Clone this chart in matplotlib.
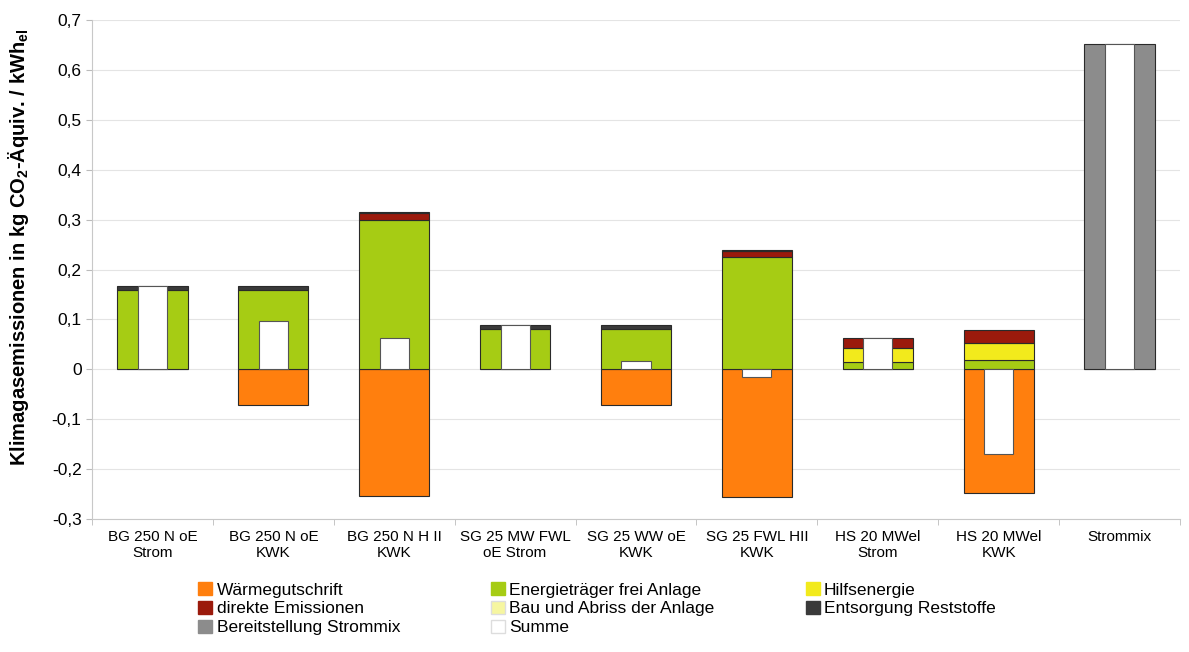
import numpy as np
import matplotlib
matplotlib.use("Agg")
import matplotlib.pyplot as plt
from matplotlib.patches import Patch

plt.rcParams["font.family"] = ["Liberation Sans", "DejaVu Sans"]
plt.rcParams["mathtext.fontset"] = "custom"
plt.rcParams["mathtext.rm"] = "Liberation Sans"
plt.rcParams["mathtext.bf"] = "Liberation Sans:bold"

# Kategorien
kategorien = ["BG 250 N oE\nStrom", "BG 250 N oE\nKWK", "BG 250 N H II\nKWK",
              "SG 25 MW FWL\noE Strom", "SG 25 WW oE\nKWK", "SG 25 FWL HII\nKWK",
              "HS 20 MWel\nStrom", "HS 20 MWel\nKWK", "Strommix"]

# Beiträge je Kategorie (kg CO2-Äquiv. / kWh_el)
waermegutschrift = [0.0, -0.072, -0.253, 0.0, -0.072, -0.255, 0.0, -0.247, 0.0]
energietraeger = [0.160, 0.160, 0.300, 0.080, 0.080, 0.225, 0.015, 0.018, 0.0]
hilfsenergie = [0.0, 0.0, 0.0, 0.0, 0.0, 0.0, 0.027, 0.034, 0.0]
direkte = [0.0, 0.0, 0.013, 0.0, 0.0, 0.012, 0.020, 0.026, 0.0]
bau_abriss = [0.0, 0.0, 0.002, 0.0, 0.0, 0.002, 0.0, 0.0, 0.0]
entsorgung = [0.008, 0.008, 0.0, 0.008, 0.008, 0.0, 0.0, 0.0, 0.0]
strommix = [0.0, 0.0, 0.0, 0.0, 0.0, 0.0, 0.0, 0.0, 0.652]
summe = [0.168, 0.096, 0.062, 0.088, 0.016, -0.016, 0.062, -0.169, 0.652]

farben = {
    "Wärmegutschrift": "#ff7f0e",
    "Energieträger frei Anlage": "#a6cc14",
    "Hilfsenergie": "#f2ea1c",
    "direkte Emissionen": "#9b1a0c",
    "Bau und Abriss der Anlage": "#f6f6a0",
    "Entsorgung Reststoffe": "#3a3a3a",
    "Bereitstellung Strommix": "#8c8c8c",
    "Summe": "#ffffff",
}

fig = plt.figure(figsize=(11.89, 6.52), dpi=100)
ax = fig.add_axes([0.0774, 0.204, 0.915, 0.765])

x = np.arange(len(kategorien))
breite = 0.58
kante = dict(edgecolor="#2a2a2a", linewidth=0.8)

# negativer Teil
ax.bar(x, waermegutschrift, breite, color=farben["Wärmegutschrift"], zorder=2, **kante)

# positive Teile gestapelt
unten = np.zeros(len(x))
for name, werte in [("Energieträger frei Anlage", energietraeger),
                    ("Hilfsenergie", hilfsenergie),
                    ("direkte Emissionen", direkte),
                    ("Bau und Abriss der Anlage", bau_abriss),
                    ("Entsorgung Reststoffe", entsorgung),
                    ("Bereitstellung Strommix", strommix)]:
    werte = np.array(werte)
    maske = werte > 0
    ax.bar(x[maske], werte[maske], breite, bottom=unten[maske],
           color=farben[name], zorder=2, **kante)
    unten += werte

# Summe als schmaler Balken davor
ax.bar(x, summe, 0.24, color="white", edgecolor="#555555", linewidth=0.8, zorder=3)

ax.set_xlim(-0.5, len(x) - 0.5)
ax.set_ylim(-0.3, 0.7)
ax.set_yticks(np.arange(-0.3, 0.71, 0.1))
ax.set_yticklabels([("%.1f" % v).replace(".", ",") if abs(v) > 1e-9 else "0"
                    for v in np.arange(-0.3, 0.71, 0.1)], fontsize=12.5)
ax.set_xticks(x)
ax.set_xticklabels(kategorien, fontsize=11)
ax.set_xticks(np.arange(-0.5, len(x), 1), minor=True)
ax.tick_params(axis="x", which="major", length=0, pad=8)
ax.tick_params(axis="x", which="minor", length=4, color="#bbbbbb")
ax.tick_params(axis="y", length=4, color="#bbbbbb")
ax.yaxis.grid(True, color="#e4e4e4", linewidth=0.8, zorder=0)
ax.set_axisbelow(True)
for s in ["top", "right"]:
    ax.spines[s].set_visible(False)
for s in ["left", "bottom"]:
    ax.spines[s].set_color("#c8c8c8")

ax.set_ylabel(r"Klimagasemissionen in kg CO$_\mathbf{2}$-Äquiv. / kWh$_\mathbf{el}$",
              fontsize=14.5, fontweight="bold")
ax.yaxis.set_label_coords(-0.056, 0.545)

# Legende (zeilenweise wie im Original)
reihenfolge = ["Wärmegutschrift", "direkte Emissionen", "Bereitstellung Strommix",
               "Energieträger frei Anlage", "Bau und Abriss der Anlage", "Summe",
               "Hilfsenergie", "Entsorgung Reststoffe"]
handles = [Patch(facecolor=farben[n], edgecolor="#dddddd" if n in ("Summe", "Bau und Abriss der Anlage") else farben[n],
                 label=n) for n in reihenfolge]
fig.legend(handles=handles, loc="upper left", bbox_to_anchor=(0.161, 0.118),
           ncol=3, frameon=False, fontsize=12.5, handlelength=0.8, handleheight=0.8,
           handletextpad=0.25, columnspacing=5.25, labelspacing=0.18, borderaxespad=0)

fig.savefig("out.png", dpi=100)
